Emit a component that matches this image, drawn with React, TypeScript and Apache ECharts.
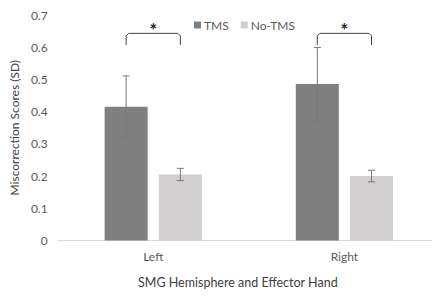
import React, { useEffect, useRef } from "react";
import * as echarts from "echarts";

const categories = ["Left", "Right"];
const tmsValues = [0.415, 0.486];
const noTmsValues = [0.205, 0.2];
const tmsErrors = [0.096, 0.113];
const noTmsErrors = [0.019, 0.018];
const yTicks = [0, 0.1, 0.2, 0.3, 0.4, 0.5, 0.6, 0.7];
const bracketLow = 0.607;
const bracketHigh = 0.643;

const BAR_W = 0.225;
const GAP = 0.26;
const OFFSET = (BAR_W + BAR_W * GAP) / 2;

export default function App() {
  const ref = useRef<HTMLDivElement>(null);
  useEffect(() => {
    if (!ref.current) return;
    const chart = echarts.init(ref.current, null, { renderer: "svg" });
    const font = "Lato, 'Open Sans', sans-serif";
    const errData = (vals: number[], errs: number[], side: number) =>
      vals.map((v, i) => [i, v - errs[i], v + errs[i], side]);
    const errorSeries = (vals: number[], errs: number[], side: number) => ({
      type: "custom",
      silent: true,
      z: 5,
      data: errData(vals, errs, side),
      encode: { x: 0, y: [1, 2] },
      renderItem: (params: any, api: any) => {
        const band = api.size([1, 0])[0];
        const lo = api.coord([api.value(0), api.value(1)]);
        const hi = api.coord([api.value(0), api.value(2)]);
        const x = lo[0] + api.value(3) * OFFSET * band;
        const cap = 3.5;
        const style = { stroke: "#7a7a7a", lineWidth: 1, fill: "none" };
        return {
          type: "group",
          children: [
            { type: "line", shape: { x1: x, y1: lo[1], x2: x, y2: hi[1] }, style },
            { type: "line", shape: { x1: x - cap, y1: lo[1], x2: x + cap, y2: lo[1] }, style },
            { type: "line", shape: { x1: x - cap, y1: hi[1], x2: x + cap, y2: hi[1] }, style },
          ],
        };
      },
    });
    chart.setOption({
      animation: false,
      textStyle: { fontFamily: font },
      legend: {
        top: 14,
        left: 189,
        itemWidth: 7,
        itemHeight: 7,
        itemGap: 12,
        icon: "rect",
        textStyle: { color: "#595959", fontSize: 12, fontFamily: font, padding: [0, 0, 0, -2] },
        data: ["TMS", "No-TMS"],
      },
      grid: { left: 53, top: 15, width: 390, height: 225.5 },
      xAxis: {
        type: "category",
        data: categories,
        axisLine: { lineStyle: { color: "#d9d9d9" } },
        axisTick: { show: false },
        axisLabel: { color: "#595959", fontSize: 12, margin: 10, fontFamily: font },
        name: "SMG Hemisphere and Effector Hand",
        nameLocation: "middle",
        nameGap: 35,
        nameTextStyle: { color: "#404040", fontSize: 12.5, fontFamily: font, padding: [0, 22, 0, 0] },
      },
      yAxis: {
        type: "value",
        min: 0,
        max: 0.7,
        interval: 0.1,
        splitLine: { show: false },
        axisLine: { show: false },
        axisTick: { show: false },
        axisLabel: {
          color: "#595959",
          fontSize: 12,
          margin: 10,
          fontFamily: font,
          formatter: (v: number) => (yTicks.includes(Math.round(v * 10) / 10) ? String(Math.round(v * 10) / 10) : ""),
        },
        name: "Miscorrection Scores (SD)",
        nameLocation: "middle",
        nameGap: 31,
        nameTextStyle: { color: "#404040", fontSize: 12, fontFamily: font },
      },
      series: [
        {
          name: "TMS",
          type: "bar",
          data: tmsValues,
          barWidth: BAR_W * 100 + "%",
          barGap: GAP * 100 + "%",
          itemStyle: { color: "#7f7f7f" },
        },
        {
          name: "No-TMS",
          type: "bar",
          data: noTmsValues,
          barWidth: BAR_W * 100 + "%",
          barGap: GAP * 100 + "%",
          itemStyle: { color: "#d0cece" },
        },
        errorSeries(tmsValues, tmsErrors, -1),
        errorSeries(noTmsValues, noTmsErrors, 1),
        {
          type: "custom",
          silent: true,
          z: 6,
          data: categories.map((_, i) => [i, bracketLow, bracketHigh]),
          encode: { x: 0, y: [1, 2] },
          renderItem: (params: any, api: any) => {
            const band = api.size([1, 0])[0];
            const lo = api.coord([api.value(0), api.value(1)]);
            const hi = api.coord([api.value(0), api.value(2)]);
            const x1 = lo[0] - OFFSET * band;
            const x2 = lo[0] + OFFSET * band;
            const r = 2.5;
            return {
              type: "group",
              children: [
                {
                  type: "polyline",
                  shape: {
                    points: [
                      [x1, lo[1]],
                      [x1, hi[1] + r],
                      [x1 + r, hi[1]],
                      [x2 - r, hi[1]],
                      [x2, hi[1] + r],
                      [x2, lo[1]],
                    ],
                  },
                  style: { stroke: "#404040", lineWidth: 1, fill: "none" },
                },
                {
                  type: "text",
                  x: lo[0],
                  y: hi[1] + 6,
                  style: {
                    text: "*",
                    fill: "#262626",
                    font: "bold 18px " + font,
                    align: "center",
                    verticalAlign: "bottom",
                  },
                },
              ],
            };
          },
        },
      ],
    });
    return () => chart.dispose();
  }, []);
  return <div ref={ref} style={{ width: 440, height: 298, margin: -8 }} />;
}
